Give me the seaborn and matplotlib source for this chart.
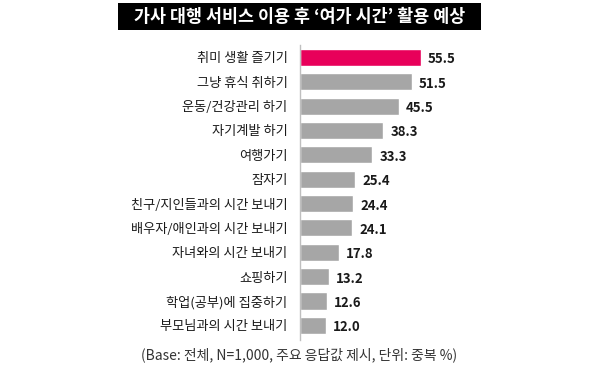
import matplotlib
matplotlib.use("Agg")
import matplotlib.pyplot as plt
import seaborn as sns
import pandas as pd
from matplotlib.patches import Rectangle

categories = ["취미 생활 즐기기", "그냥 휴식 취하기", "운동/건강관리 하기", "자기계발 하기", "여행가기",
              "잠자기", "친구/지인들과의 시간 보내기", "배우자/애인과의 시간 보내기", "자녀와의 시간 보내기",
              "쇼핑하기", "학업(공부)에 집중하기", "부모님과의 시간 보내기"]
values = [55.5, 51.5, 45.5, 38.3, 33.3, 25.4, 24.4, 24.1, 17.8, 13.2, 12.6, 12.0]
value_labels = ["55.5", "51.5", "45.5", "38.3", "33.3", "25.4", "24.4", "24.1", "17.8", "13.2", "12.6", "12.0"]
title = "가사 대행 서비스 이용 후 ‘여가 시간’ 활용 예상"
footnote = "(Base: 전체, N=1,000, 주요 응답값 제시, 단위: 중복 %)"

sns.set_theme(style="white")
plt.rcParams['font.family'] = ['Noto Sans CJK KR', 'DejaVu Sans']

df = pd.DataFrame({"cat": categories, "val": values})
colors = ["#e8005a"] + ["#a6a6a6"] * (len(categories) - 1)

fig = plt.figure(figsize=(6, 3.78), dpi=100)
ax = fig.add_axes([0.5, 0.1005, 0.29, 0.780])
sns.barplot(data=df, y="cat", x="val", hue="cat", palette=colors, legend=False,
            orient="h", width=0.7, ax=ax, saturation=1)
ax.set_xlim(0, 80)
ax.set_ylim(11.6, -0.5)
ax.set_xlabel("")
ax.set_ylabel("")
ax.set_xticks([])
for s in ["top", "right", "bottom"]:
    ax.spines[s].set_visible(False)
ax.spines["left"].set_color("#bfbfbf")
ax.spines["left"].set_linewidth(1)
ax.tick_params(axis="y", length=0, pad=9, labelsize=9.5, labelcolor="#1a1a1a")

for i, (v, lab) in enumerate(zip(values, value_labels)):
    ax.text(v + 3.2, i + 0.08, lab, va="center", ha="left", fontsize=9.5,
            fontweight="bold", color="#1a1a1a")

fig.patches.append(Rectangle((118 / 600, 1 - 30 / 378), (481 - 118) / 600, 27 / 378,
                             transform=fig.transFigure, facecolor="black", edgecolor="none"))
fig.text(299.5 / 600, 1 - 16.5 / 378, title, ha="center", va="center", color="white",
         fontsize=12.5, fontweight="bold")
fig.text(299 / 600, 1 - 355 / 378, footnote, ha="center", va="center", color="#333333",
         fontsize=10)

fig.savefig("out.png", dpi=100)
